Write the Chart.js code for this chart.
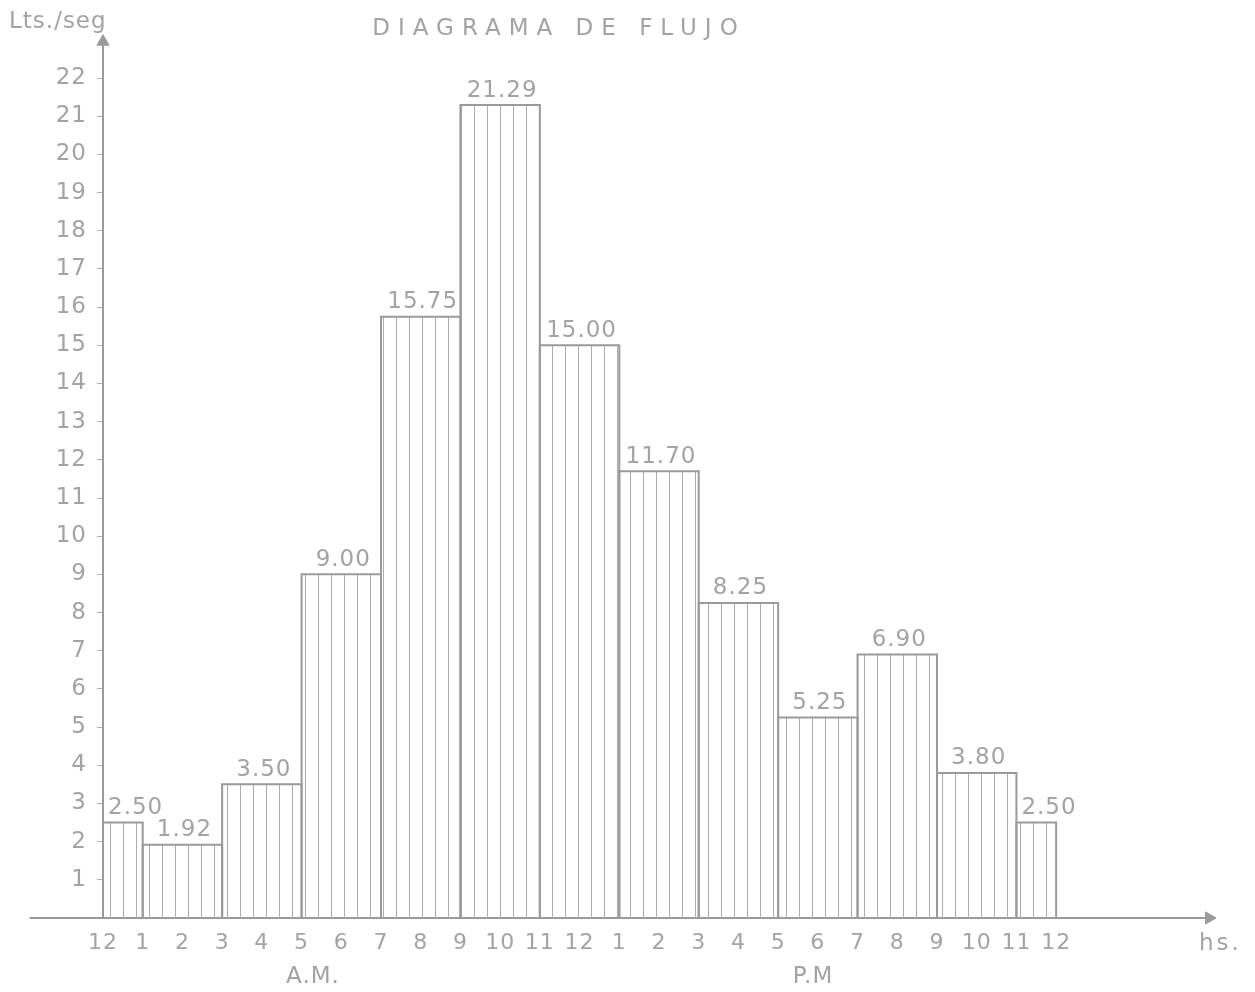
<!DOCTYPE html>
<html>
<head>
<meta charset="utf-8">
<title>Diagrama de flujo</title>
<script src="https://cdn.jsdelivr.net/npm/chart.js@4.4.1/dist/chart.umd.min.js"></script>
<style>
  body { margin: 0; background: #fff; }
  canvas { display: block; }
</style>
</head>
<body>
<canvas id="flowChart" width="1255" height="992"></canvas>
<script>
// hour edges of each bar (0 = 12 A.M. ... 24 = 12 midnight)
const binStarts = [0, 1, 3, 5, 7, 9, 11, 13, 15, 17, 19, 21, 23];
const binEnds = [1, 3, 5, 7, 9, 11, 13, 15, 17, 19, 21, 23, 24];
// flow in Lts./seg
const flowValues = [2.50, 1.92, 3.50, 9.00, 15.75, 21.29, 15.00, 11.70, 8.25, 5.25, 6.90, 3.80, 2.50];
const valueLabels = ['2.50', '1.92', '3.50', '9.00', '15.75', '21.29', '15.00', '11.70', '8.25', '5.25', '6.90', '3.80', '2.50'];

const hourTicks = [0, 1, 2, 3, 4, 5, 6, 7, 8, 9, 10, 11, 12, 13, 14, 15, 16, 17, 18, 19, 20, 21, 22, 23, 24];
const hourLabels = ['12', '1', '2', '3', '4', '5', '6', '7', '8', '9', '10', '11',
                    '12', '1', '2', '3', '4', '5', '6', '7', '8', '9', '10', '11', '12'];
const yTicks = [1, 2, 3, 4, 5, 6, 7, 8, 9, 10, 11, 12, 13, 14, 15, 16, 17, 18, 19, 20, 21, 22];

const ink = '#9a9a9a';
const textInk = '#a3a3a3';
const fontFamily = '"DejaVu Sans", sans-serif';

// vertical hatching used inside the bars
function makeHatch() {
    const c = document.createElement('canvas');
    c.width = 13;
    c.height = 4;
    const g = c.getContext('2d');
    g.strokeStyle = '#acacac';
    g.lineWidth = 1;
    g.beginPath();
    g.moveTo(6.5, 0);
    g.lineTo(6.5, 4);
    g.stroke();
    return g.createPattern(c, 'repeat');
}
const hatch = makeHatch();

// one closed outline per bar, filled down to zero
const barSets = flowValues.map((v, i) => ({
    data: [
        { x: binStarts[i], y: 0 },
        { x: binStarts[i], y: v },
        { x: binEnds[i], y: v },
        { x: binEnds[i], y: 0 }
    ],
    showLine: true,
    fill: 'origin',
    backgroundColor: hatch,
    borderColor: ink,
    borderWidth: 2,
    pointRadius: 0,
    tension: 0
}));

// axis line running a little left of the origin, plus the two arrow heads
const axisSets = [
    {
        data: [{ x: -1.85, y: 0 }, { x: 0, y: 0 }],
        showLine: true, borderColor: ink, borderWidth: 2, pointRadius: 0, clip: false
    },
    {
        data: [{ x: 0, y: 22.95 }],
        pointStyle: 'triangle', pointRadius: 7, backgroundColor: ink, borderColor: ink, clip: false
    },
    {
        data: [{ x: 27.85, y: 0 }],
        pointStyle: 'triangle', rotation: 90, pointRadius: 7, backgroundColor: ink, borderColor: ink, clip: false
    }
];

// slightly wider lettering for the axis numbers
const spacing = {
    id: 'spacing',
    beforeDraw(chart) {
        chart.ctx.letterSpacing = '1px';
    }
};

// labels written on the sheet
const sheetText = {
    id: 'sheetText',
    afterDatasetsDraw(chart) {
        const { ctx, scales: { x, y } } = chart;
        ctx.save();
        ctx.fillStyle = textInk;

        // value over each bar, kept clear of the bar's left edge
        ctx.letterSpacing = '1px';
        ctx.font = '23px ' + fontFamily;
        ctx.textAlign = 'center';
        ctx.textBaseline = 'bottom';
        flowValues.forEach((v, i) => {
            const w = ctx.measureText(valueLabels[i]).width;
            const left = x.getPixelForValue(binStarts[i]);
            const cx = Math.max(x.getPixelForValue((binStarts[i] + binEnds[i]) / 2) + 2, left + 5 + w / 2);
            ctx.fillText(valueLabels[i], cx, y.getPixelForValue(v) - 3);
        });

        ctx.textBaseline = 'middle';
        ctx.textAlign = 'left';
        ctx.fillText('Lts./seg', 9, 22);
        ctx.letterSpacing = '3px';
        ctx.fillText('hs.', 1199, 944);
        ctx.textAlign = 'center';
        ctx.letterSpacing = '1px';
        ctx.fillText('A.M.', 313, 977);
        ctx.fillText('P.M', 813, 977);

        // title, widely spaced
        ctx.font = '23px ' + fontFamily;
        ctx.letterSpacing = '8px';
        ctx.fillText('DIAGRAMA DE FLUJO', 559, 29);
        ctx.restore();
    }
};

const ctx = document.getElementById('flowChart').getContext('2d');
new Chart(ctx, {
    type: 'scatter',
    data: { datasets: [...barSets, ...axisSets] },
    options: {
        responsive: false,
        animation: false,
        layout: { padding: { top: 36, right: 40, left: 0, bottom: 0 } },
        plugins: {
            legend: { display: false },
            tooltip: { enabled: false }
        },
        scales: {
            x: {
                type: 'linear',
                min: 0,
                max: 28,
                afterBuildTicks: scale => { scale.ticks = hourTicks.map(v => ({ value: v })); },
                afterFit: scale => { scale.height = 74; },
                grid: { display: false },
                border: { display: true, color: ink, width: 2 },
                ticks: {
                    padding: 4,
                    color: textInk,
                    font: { family: fontFamily, size: 22 },
                    maxRotation: 0,
                    autoSkip: false,
                    callback: (value, index) => hourLabels[index]
                }
            },
            y: {
                min: 0,
                max: 23.1,
                afterBuildTicks: scale => { scale.ticks = yTicks.map(v => ({ value: v })); },
                afterFit: scale => { scale.width = 103; },
                grid: { display: true, drawOnChartArea: false, drawTicks: true, tickLength: 6, color: '#b0b0b0' },
                border: { display: true, color: ink, width: 2 },
                ticks: {
                    padding: 10,
                    color: textInk,
                    font: { family: fontFamily, size: 23 },
                    autoSkip: false
                }
            }
        }
    },
    plugins: [spacing, sheetText]
});
</script>
</body>
</html>
